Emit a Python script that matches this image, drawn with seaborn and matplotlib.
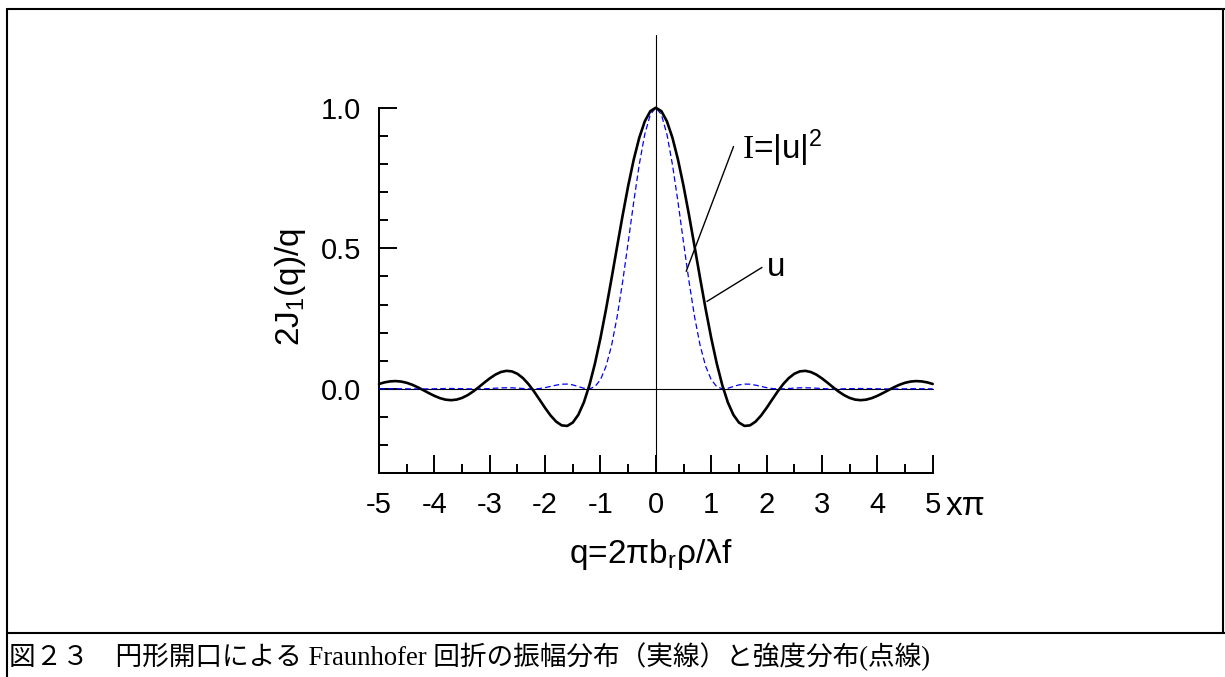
import numpy as np
import pandas as pd
import matplotlib
matplotlib.use("Agg")
import matplotlib.pyplot as plt
import seaborn as sns
from matplotlib.lines import Line2D
from matplotlib.ticker import MultipleLocator

# ---------------- data ----------------
q_over_pi = [
    -5.0, -4.9, -4.8, -4.7, -4.6, -4.5, -4.4, -4.3, -4.2, -4.1,
    -4.0, -3.9, -3.8, -3.7, -3.6, -3.5, -3.4, -3.3, -3.2, -3.1,
    -3.0, -2.9, -2.8, -2.7, -2.6, -2.5, -2.4, -2.3, -2.2, -2.1,
    -2.0, -1.9, -1.8, -1.7, -1.6, -1.5, -1.4, -1.3, -1.2, -1.1,
    -1.0, -0.9, -0.8, -0.7, -0.6, -0.5, -0.4, -0.3, -0.2, -0.1,
    0.0,
    0.1, 0.2, 0.3, 0.4, 0.5, 0.6, 0.7, 0.8, 0.9, 1.0,
    1.1, 1.2, 1.3, 1.4, 1.5, 1.6, 1.7, 1.8, 1.9, 2.0,
    2.1, 2.2, 2.3, 2.4, 2.5, 2.6, 2.7, 2.8, 2.9, 3.0,
    3.1, 3.2, 3.3, 3.4, 3.5, 3.6, 3.7, 3.8, 3.9, 4.0,
    4.1, 4.2, 4.3, 4.4, 4.5, 4.6, 4.7, 4.8, 4.9, 5.0,
]

amplitude_u = [
    0.0177, 0.0233, 0.0268, 0.0279, 0.0262, 0.0218, 0.0149, 0.0059, -0.0043, -0.0148,
    -0.0246, -0.0327, -0.0381, -0.0400, -0.0380, -0.0320, -0.0222, -0.0092, 0.0060, 0.0221,
    0.0375, 0.0507, 0.0601, 0.0643, 0.0624, 0.0538, 0.0385, 0.0171, -0.0091, -0.0381,
    -0.0676, -0.0947, -0.1164, -0.1296, -0.1315, -0.1195, -0.0919, -0.0477, 0.0134, 0.0903,
    0.1812, 0.2833, 0.3929, 0.5057, 0.6170, 0.7217, 0.8152, 0.8930, 0.9515, 0.9877,
    1.0000,
    0.9877, 0.9515, 0.8930, 0.8152, 0.7217, 0.6170, 0.5057, 0.3929, 0.2833, 0.1812,
    0.0903, 0.0134, -0.0477, -0.0919, -0.1195, -0.1315, -0.1296, -0.1164, -0.0947, -0.0676,
    -0.0381, -0.0091, 0.0171, 0.0385, 0.0538, 0.0624, 0.0643, 0.0601, 0.0507, 0.0375,
    0.0221, 0.0060, -0.0092, -0.0222, -0.0320, -0.0380, -0.0400, -0.0381, -0.0327, -0.0246,
    -0.0148, -0.0043, 0.0059, 0.0149, 0.0218, 0.0262, 0.0279, 0.0268, 0.0233, 0.0177,
]

intensity_I = [
    0.0003, 0.0005, 0.0007, 0.0008, 0.0007, 0.0005, 0.0002, 0.0000, 0.0000, 0.0002,
    0.0006, 0.0011, 0.0014, 0.0016, 0.0014, 0.0010, 0.0005, 0.0001, 0.0000, 0.0005,
    0.0014, 0.0026, 0.0036, 0.0041, 0.0039, 0.0029, 0.0015, 0.0003, 0.0001, 0.0015,
    0.0046, 0.0090, 0.0135, 0.0168, 0.0173, 0.0143, 0.0085, 0.0023, 0.0002, 0.0082,
    0.0328, 0.0803, 0.1544, 0.2557, 0.3807, 0.5209, 0.6645, 0.7975, 0.9054, 0.9756,
    1.0000,
    0.9756, 0.9054, 0.7975, 0.6645, 0.5209, 0.3807, 0.2557, 0.1544, 0.0803, 0.0328,
    0.0082, 0.0002, 0.0023, 0.0085, 0.0143, 0.0173, 0.0168, 0.0135, 0.0090, 0.0046,
    0.0015, 0.0001, 0.0003, 0.0015, 0.0029, 0.0039, 0.0041, 0.0036, 0.0026, 0.0014,
    0.0005, 0.0000, 0.0001, 0.0005, 0.0010, 0.0014, 0.0016, 0.0014, 0.0011, 0.0006,
    0.0002, 0.0000, 0.0000, 0.0002, 0.0005, 0.0007, 0.0008, 0.0007, 0.0005, 0.0003,
]

xtick_values = [-5, -4, -3, -2, -1, 0, 1, 2, 3, 4, 5]
xtick_labels = ["-5", "-4", "-3", "-2", "-1", "0", "1", "2", "3", "4", "5"]
ytick_values = [0.0, 0.5, 1.0]
ytick_labels = ["0.0", "0.5", "1.0"]

x_axis_label = "q=2πb$_\\mathsf{r}$ρ/λf"
y_axis_label = "2J$_\\mathsf{1}$(q)/q"
label_I = "$\\mathrm{I}$=|u|$^\\mathsf{2}$"
label_u = "u"
x_unit = "xπ"
caption = "図２３　円形開口による Fraunhofer 回折の振幅分布（実線）と強度分布(点線)"

assert len(q_over_pi) == len(amplitude_u) == len(intensity_I)

# ---------------- style ----------------
sns.set_theme(style="white")
plt.rcParams["font.family"] = ["Liberation Sans", "DejaVu Sans"]
plt.rcParams["mathtext.fontset"] = "custom"
plt.rcParams["mathtext.rm"] = "Liberation Serif"
plt.rcParams["mathtext.sf"] = "Liberation Sans"
plt.rcParams["mathtext.it"] = "Liberation Sans:italic"

W, H = 1225, 677
fig = plt.figure(figsize=(W / 100, H / 100), dpi=100)
fig.patch.set_facecolor("white")

def fx(px):
    return px / W

def fy(py):
    return 1 - py / H

ax_left, ax_right, ax_top, ax_bottom = 379, 932.7, 107.7, 473.3
ax = fig.add_axes([fx(ax_left), fy(ax_bottom), fx(ax_right - ax_left), (ax_bottom - ax_top) / H])
ax.set_facecolor("white")

df = pd.DataFrame({"q": q_over_pi, "u": amplitude_u, "I": intensity_I})

# zero lines
ax.axhline(0, color="black", lw=0.8, zorder=1)
ax.axvline(0, ymin=0, ymax=(1.26 + 0.3) / 1.3, color="black", lw=0.8, clip_on=False, zorder=1)

sns.lineplot(data=df, x="q", y="I", ax=ax, color="#0000ff", linewidth=0.9,
             linestyle=(0, (4.5, 2.5)), sort=False, estimator=None, zorder=3)
sns.lineplot(data=df, x="q", y="u", ax=ax, color="black", linewidth=1.9,
             sort=False, estimator=None, zorder=4)
for ln in ax.lines:
    ln.set_clip_on(False)

ax.set_xlim(-5, 5)
ax.set_ylim(-0.3, 1.0)
ax.set_xlabel("")
ax.set_ylabel("")

for s in ["top", "right"]:
    ax.spines[s].set_visible(False)
for s in ["left", "bottom"]:
    ax.spines[s].set_linewidth(1.45)
    ax.spines[s].set_color("black")

ax.set_xticks(xtick_values)
ax.set_xticklabels(xtick_labels)
ax.set_yticks(ytick_values)
ax.set_yticklabels(ytick_labels)
ax.xaxis.set_minor_locator(MultipleLocator(0.5))
ax.yaxis.set_minor_locator(MultipleLocator(0.1))
ax.tick_params(which="major", direction="in", length=12.7, width=1.4, labelsize=21,
               color="black", labelcolor="black", top=False, right=False,
               bottom=True, left=True)
ax.tick_params(axis="x", which="major", pad=12.5)
ax.tick_params(axis="y", which="major", pad=13.0)
ax.tick_params(which="minor", direction="in", length=6.3, width=1.4, color="black",
               top=False, right=False, bottom=True, left=True)
ax.grid(False)

# annotations
ax.annotate("", xy=(0.548, 0.418), xytext=(1.403, 0.862),
            arrowprops=dict(arrowstyle="-", lw=1.0, color="black", shrinkA=0, shrinkB=0))
ax.annotate("", xy=(0.922, 0.311), xytext=(1.917, 0.432),
            arrowprops=dict(arrowstyle="-", lw=1.0, color="black", shrinkA=0, shrinkB=0))
ax.text(1.555, 0.817, label_I, ha="left", va="baseline", fontsize=24, color="black")
ax.text(2.007, 0.403, label_u, ha="left", va="baseline", fontsize=24, color="black")

# axis labels
fig.text(fx(651), fy(563), x_axis_label, ha="center", va="baseline", fontsize=24, color="black")
fig.text(fx(291), fy(287), y_axis_label, ha="center", va="center", rotation=90,
         fontsize=24, color="black")
fig.text(fx(946), fy(515), x_unit, ha="left", va="baseline", fontsize=24, color="black")

# frame and caption box
lw_frame = 1.5
fig.add_artist(Line2D([fx(7.3), fx(1225)], [fy(9), fy(9)], color="black", lw=lw_frame,
                      transform=fig.transFigure))
fig.add_artist(Line2D([fx(7.3), fx(7.3)], [fy(9), fy(677)], color="black", lw=lw_frame,
                      transform=fig.transFigure))
fig.add_artist(Line2D([fx(1223), fx(1223)], [fy(9), fy(633.3)], color="black", lw=lw_frame,
                      transform=fig.transFigure))
fig.add_artist(Line2D([fx(7.3), fx(1225)], [fy(633.3), fy(633.3)], color="black", lw=lw_frame,
                      transform=fig.transFigure))

fig.text(fx(9), fy(657), caption, ha="left", va="center", fontsize=19.2, color="black",
         family=["Liberation Serif", "Noto Sans CJK JP", "DejaVu Sans"])

fig.savefig("out.png", dpi=100, facecolor="white")
